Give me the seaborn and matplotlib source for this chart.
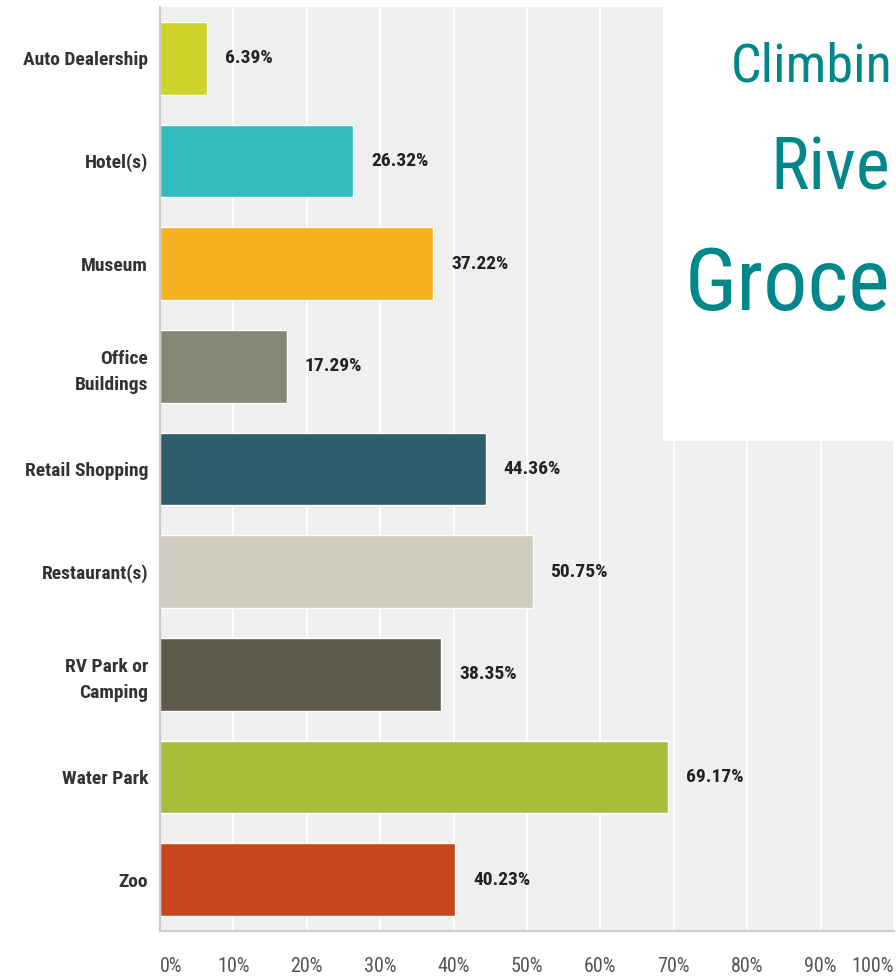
"""Horizontal bar chart of nearby attractions, with the title card cut off at the right."""
import matplotlib
matplotlib.use("Agg")
import matplotlib.pyplot as plt
from matplotlib.patches import Rectangle
import seaborn as sns

categories = ["Auto Dealership", "Hotel(s)", "Museum", "Office\nBuildings",
              "Retail Shopping", "Restaurant(s)", "RV Park or\nCamping",
              "Water Park", "Zoo"]
values = [6.39, 26.32, 37.22, 17.29, 44.36, 50.75, 38.35, 69.17, 40.23]
colors = ["#cdd32a", "#33bcbd", "#f5b01f", "#868676", "#2e5e6b",
          "#cfcdbf", "#5c5a4b", "#a9bd3a", "#c7461c"]
x_ticks = [0, 10, 20, 30, 40, 50, 60, 70, 80, 90, 100]
title_lines = ["Climbin", "Rive", "Groce"]

sns.set_theme(style="white")
narrow = ["Roboto Condensed", "Liberation Sans", "DejaVu Sans"]

fig = plt.figure(figsize=(8.96, 9.8), dpi=100)
ax = fig.add_axes([160 / 896, 49 / 980, 734 / 896, 924 / 980])
ax.set_facecolor("#efefef")

sns.barplot(x=values, y=categories, hue=categories, palette=colors,
            legend=False, orient="h", width=0.71, ax=ax, saturation=1)

ax.set_xlim(0, 100)
ax.set_ylim(8.5, -0.5)
ax.set_xticks(x_ticks)
ax.xaxis.grid(True, color="white", linewidth=1.5)
ax.set_axisbelow(True)
ax.set_xlabel(""); ax.set_ylabel("")

for sp in ["top", "right"]:
    ax.spines[sp].set_visible(False)
ax.spines["left"].set_color("#c8c8c8"); ax.spines["left"].set_linewidth(1.5)
ax.spines["bottom"].set_color("#cfcfcf"); ax.spines["bottom"].set_linewidth(1.5)

ax.tick_params(axis="both", length=0)
ax.tick_params(axis="x", pad=19)
ax.tick_params(axis="y", pad=8.5)
ax.set_xticklabels([f"{t}%" for t in x_ticks])
for i, lab in enumerate(ax.get_xticklabels()):
    lab.set_family(narrow); lab.set_fontsize(14.5); lab.set_color("#555555")
    if i == 0:
        lab.set_ha("left")
    elif i == len(x_ticks) - 1:
        lab.set_ha("right")
for lab in ax.get_yticklabels():
    lab.set_family(narrow); lab.set_fontsize(14); lab.set_fontweight("bold")
    lab.set_color("#333333"); lab.set_linespacing(1.55)

for cont in ax.containers:
    ax.bar_label(cont, labels=[f"{v:.2f}%" for v in cont.datavalues],
                 padding=13, family=narrow, fontsize=14,
                 fontweight="bold", color="#222222")

# white title card overlapping the plot, cut off by the image edge
fig.add_artist(Rectangle((663 / 896, 1 - 441 / 980), 240 / 896, 434 / 980,
                         transform=fig.transFigure, facecolor="white",
                         edgecolor="none", zorder=5))
for txt, x, y, size in zip(title_lines, [731, 770, 685], [82, 190, 310], [39, 52, 63.5]):
    fig.text(x / 896, 1 - y / 980, txt, family=narrow, fontsize=size,
             color="#00878a", ha="left", va="baseline", zorder=6)

fig.savefig("out.png", dpi=100)
plt.close(fig)
